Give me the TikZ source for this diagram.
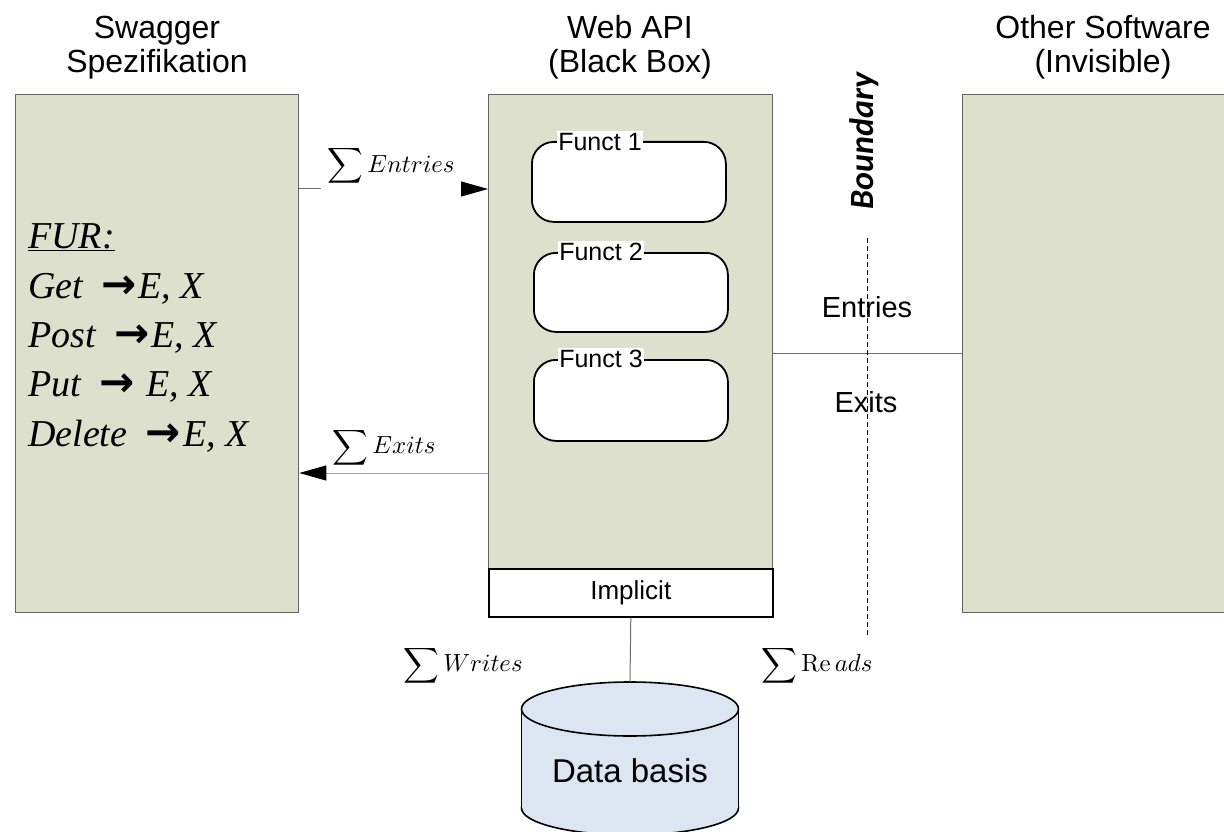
\documentclass[tikz,border=0pt]{standalone}
\usepackage[no-math]{fontspec}
\usepackage{graphicx}
\setmainfont{Liberation Serif}
\setsansfont{Liberation Sans}
\newfontfamily\boundfont{Carlito}
\newfontfamily\arrowfont{DejaVu Sans}
\usetikzlibrary{arrows.meta}

\definecolor{panelfill}{RGB}{221,224,204}
\definecolor{panelline}{RGB}{100,100,100}
\definecolor{linkgray}{RGB}{110,110,110}
\definecolor{lightlink}{RGB}{160,160,160}
\definecolor{dbfill}{RGB}{220,230,242}

% heavy arrow used in the FUR list
\newcommand{\rarr}{{\hspace{9pt}\arrowfont\bfseries\fontsize{42}{46}\selectfont →\hspace{2pt}}}
% enlarged sum formula
\newcommand{\bigsum}[1]{\scalebox{2.48}{$\displaystyle\sum #1$}}

\begin{document}
\begin{tikzpicture}[x=1pt, y=-1pt,
  panel/.style={draw=panelline, fill=panelfill, line width=1.3pt, inner sep=0pt, anchor=north west},
  functbox/.style={draw=black, fill=white, line width=1.8pt, rounded corners=22pt, inner sep=0pt, anchor=north west},
  functlabel/.style={fill=white, inner sep=1.5pt, font=\sffamily\fontsize{25}{30}\selectfont, anchor=base},
  title/.style={font=\sffamily\fontsize{32}{38}\selectfont, anchor=base, inner sep=0pt},
  fur/.style={font=\fontsize{38}{46}\selectfont\itshape, anchor=base west, inner sep=0pt},
  sumlabel/.style={inner sep=0pt},
  sidelabel/.style={font=\sffamily\fontsize{29}{34}\selectfont, anchor=base, inner sep=0pt},
  link/.style={draw=linkgray, line width=1pt},
  flow/.style={link, -{Triangle[length=27pt, width=15pt, color=black]}},
  border/.style={draw=black, dash pattern=on 5pt off 3pt, line width=0.8pt},
  dbshape/.style={draw=black, fill=dbfill, line width=1.6pt}
]
\fill[white] (0,0) rectangle (1224,832);
\useasboundingbox (0,0) rectangle (1224,832);

% column titles
\node[title] (specA) at (157,39) {Swagger};
\node[title] (specB) at (157,73) {Spezifikation};
\node[title] (apiA) at (630,39) {Web API};
\node[title] (apiB) at (630,73) {(Black Box)};
\node[title] (othA) at (1103,39) {Other Software};
\node[title] (othB) at (1103,73) {(Invisible)};

% the three panels
\node[panel, minimum width=283pt, minimum height=518pt] (spec) at (15,94) {};
\node[panel, minimum width=284pt, minimum height=474pt] (api) at (488,94) {};
\node[panel, minimum width=300pt, minimum height=518pt] (other) at (962,94) {};

% FUR list
\node[fur] (fur) at (28,248) {\underline{FUR:}};
\node[fur] (get) at (28,298) {Get \rarr E, X};
\node[fur] (post) at (28,347) {Post \rarr E, X};
\node[fur] (put) at (28,396) {Put \rarr\ E, X};
\node[fur] (del) at (28,446) {Delete \rarr E, X};

% functions inside the web API
\node[functbox, minimum width=194pt, minimum height=80pt] (f1) at (531,141) {};
\node[functbox, minimum width=194pt, minimum height=79pt] (f2) at (533,252) {};
\node[functbox, minimum width=194pt, minimum height=81pt] (f3) at (533,359) {};
\node[functlabel] (f1l) at (600,150) {Funct 1};
\node[functlabel] (f2l) at (601,260) {Funct 2};
\node[functlabel] (f3l) at (601,367) {Funct 3};

% implicit layer
\node[draw=black, fill=white, line width=1.6pt, inner sep=0pt, anchor=north west,
      minimum width=284pt, minimum height=48pt,
      font=\sffamily\fontsize{26}{30}\selectfont] (impl) at (488,568) {Implicit};

% entries and exits between specification and API
\draw[flow] ([yshift=-95pt]spec.north east) -- ([yshift=-95pt]api.north west);
\node[sumlabel, fill=white, inner xsep=6pt, inner ysep=7pt] (sumE) at (391,166) {\bigsum{Entries}};
\draw[flow, draw=lightlink] ([yshift=-379pt]api.north west) -- ([yshift=-379pt]spec.north east);
\node[sumlabel] (sumX) at (384,447.5) {\bigsum{Exits}};

% link to the other software across the boundary
\draw[link] ([yshift=-259pt]api.north east) -- ([yshift=-259pt]other.north west);
\node[sidelabel] (ent) at (867,317) {Entries};
\node[sidelabel] (ext) at (866,412) {Exits};

% boundary
\node[rotate=90, anchor=base, inner sep=0pt,
      font=\boundfont\bfseries\itshape\fontsize{34}{40}\selectfont] (bnd) at (873,141) {Boundary};
\coordinate (btop) at (867,238);
\coordinate (bbot) at (867,637);
\draw[border] (btop) -- (bbot);

% data basis cylinder
\coordinate (dbtop) at (630,682);
\filldraw[dbshape] (630,808) ellipse [x radius=108.5pt, y radius=27pt];
\fill[dbfill] (521.5,709) rectangle (738.5,808);
\draw[line width=1.6pt] (521.5,709) -- (521.5,808) (738.5,709) -- (738.5,808);
\filldraw[dbshape] (630,709) ellipse [x radius=108.5pt, y radius=27pt];
\node[font=\sffamily\fontsize{33}{40}\selectfont, anchor=base, inner sep=0pt] (db) at (630,782) {Data basis};
\draw[link] (impl.south) -- (dbtop);

% reads and writes
\node[sumlabel] (sumW) at (463,665.5) {\bigsum{Writes}};
\node[sumlabel] (sumR) at (817,665.5) {\bigsum{\mathrm{Re}\,ads}};
\end{tikzpicture}
\end{document}
